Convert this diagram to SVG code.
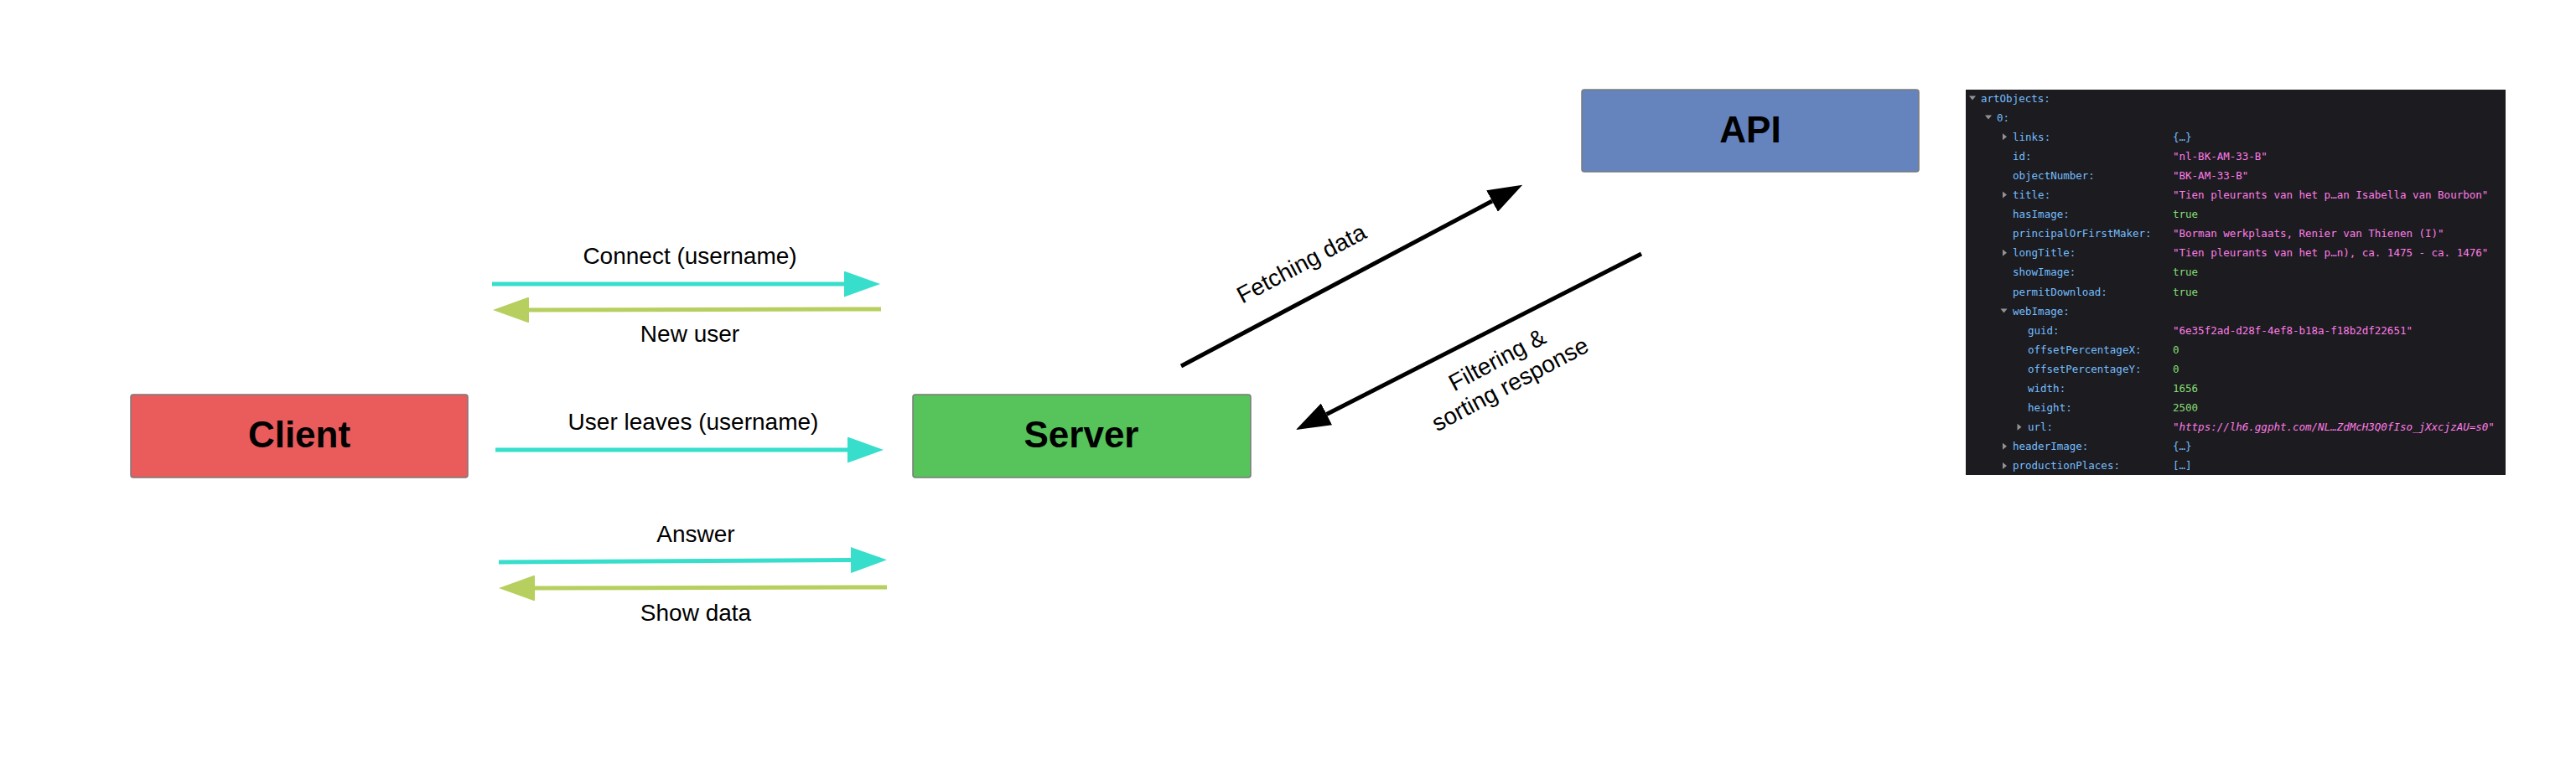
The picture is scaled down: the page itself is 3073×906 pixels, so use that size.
<svg xmlns="http://www.w3.org/2000/svg" width="3073" height="906" viewBox="0 0 3073 906">
<style>
.box{stroke:#7a7a7a;stroke-width:1.5}
.nt{font-family:"Liberation Sans",Arial,Helvetica,sans-serif;font-size:44px;font-weight:bold;fill:#000;text-anchor:middle}
.lbl{font-family:"Liberation Sans",Arial,Helvetica,sans-serif;font-size:28px;fill:#000;text-anchor:middle}
.cy{stroke:#36decb;stroke-width:5;fill:none}
.gr{stroke:#b6cf5e;stroke-width:5;fill:none}
.bk{stroke:#000;stroke-width:5;fill:none}
.js{font-family:"DejaVu Sans Mono","Liberation Mono",monospace;font-size:12.5px}
.k{fill:#75bfff}
.s{fill:#ff7de9}
.n{fill:#86de74}
.tri{fill:#939395}
</style>
<defs>
<marker id="hc" markerUnits="userSpaceOnUse" markerWidth="44" markerHeight="31" viewBox="0 0 44 31" refX="0" refY="15.5" orient="auto"><path d="M0,0 L43,15.5 L0,31 Z" fill="#36decb"/></marker>
<marker id="hg" markerUnits="userSpaceOnUse" markerWidth="44" markerHeight="31" viewBox="0 0 44 31" refX="0" refY="15.5" orient="auto"><path d="M0,0 L43,15.5 L0,31 Z" fill="#b6cf5e"/></marker>
<marker id="hb" markerUnits="userSpaceOnUse" markerWidth="42" markerHeight="29" viewBox="0 0 42 29" refX="0" refY="14.5" orient="auto"><path d="M0,0 L41,14.5 L0,29 Z" fill="#000"/></marker>
</defs>
<rect width="3073" height="906" fill="#fff"/>
<g id="client">
<rect class="box" x="156" y="471" width="402" height="99" rx="3" fill="#ea5b5b"/>
<text class="nt" x="357" y="534">Client</text>
</g>
<g id="server">
<rect class="box" x="1089" y="471" width="403" height="99" rx="3" fill="#56c45b"/>
<text class="nt" x="1290" y="534">Server</text>
</g>
<g id="api">
<rect class="box" x="1887" y="107" width="402" height="98" rx="3" fill="#6583bd"/>
<text class="nt" x="2088" y="170">API</text>
</g>
<g id="connectors">
<line class="cy" x1="587" y1="339" x2="1007" y2="339" marker-end="url(#hc)"/>
<text class="lbl" x="823" y="315">Connect (username)</text>
<line class="gr" x1="1051" y1="369" x2="631" y2="370" marker-end="url(#hg)"/>
<text class="lbl" x="823" y="408">New user</text>
<line class="cy" x1="591" y1="537" x2="1011" y2="537" marker-end="url(#hc)"/>
<text class="lbl" x="827" y="513">User leaves (username)</text>
<line class="cy" x1="595" y1="671" x2="1015" y2="668.5" marker-end="url(#hc)"/>
<text class="lbl" x="830" y="647">Answer</text>
<line class="gr" x1="1058" y1="701" x2="638" y2="702" marker-end="url(#hg)"/>
<text class="lbl" x="830" y="741">Show data</text>
<line class="bk" x1="1409" y1="437" x2="1780" y2="240" marker-end="url(#hb)"/>
<text class="lbl" transform="translate(1557,323) rotate(-28)" x="0" y="0">Fetching data</text>
<line class="bk" x1="1958" y1="303" x2="1582.5" y2="494.4" marker-end="url(#hb)"/>
<text class="lbl" transform="translate(1798,452) rotate(-28)"><tspan x="0" y="-16">Filtering &amp;</tspan><tspan x="0" y="17">sorting response</tspan></text>
</g>
<g id="json-panel">
<rect x="2345" y="107" width="644" height="460" fill="#1c1b1f"/>
<g class="tri">
<polygon points="2349,114.5 2357,114.5 2353,119.5"/>
<polygon points="2368,137.5 2376,137.5 2372,142.5"/>
<polygon points="2389,159.2 2394,163.2 2389,167.2"/>
<polygon points="2389,228.5 2394,232.5 2389,236.5"/>
<polygon points="2389,297.8 2394,301.8 2389,305.8"/>
<polygon points="2386.5,368.6 2394.5,368.6 2390.5,373.6"/>
<polygon points="2406.5,505.7 2411.5,509.7 2406.5,513.7"/>
<polygon points="2389,528.8 2394,532.8 2389,536.8"/>
<polygon points="2389,551.9 2394,555.9 2389,559.9"/>
</g>
<g class="js">
<text class="k" x="2363" y="121.5">artObjects:</text>
<text class="k" x="2382" y="144.6">0:</text>
<text class="k" x="2401" y="167.7">links:</text><text class="k" x="2592" y="167.7">{…}</text>
<text class="k" x="2401" y="190.8">id:</text><text class="s" x="2592" y="190.8">"nl-BK-AM-33-B"</text>
<text class="k" x="2401" y="213.9">objectNumber:</text><text class="s" x="2592" y="213.9">"BK-AM-33-B"</text>
<text class="k" x="2401" y="237">title:</text><text class="s" x="2592" y="237">"Tien pleurants van het p…an Isabella van Bourbon"</text>
<text class="k" x="2401" y="260.1">hasImage:</text><text class="n" x="2592" y="260.1">true</text>
<text class="k" x="2401" y="283.2">principalOrFirstMaker:</text><text class="s" x="2592" y="283.2">"Borman werkplaats, Renier van Thienen (I)"</text>
<text class="k" x="2401" y="306.3">longTitle:</text><text class="s" x="2592" y="306.3">"Tien pleurants van het p…n), ca. 1475 - ca. 1476"</text>
<text class="k" x="2401" y="329.4">showImage:</text><text class="n" x="2592" y="329.4">true</text>
<text class="k" x="2401" y="352.5">permitDownload:</text><text class="n" x="2592" y="352.5">true</text>
<text class="k" x="2401" y="375.6">webImage:</text>
<text class="k" x="2419" y="398.7">guid:</text><text class="s" x="2592" y="398.7">"6e35f2ad-d28f-4ef8-b18a-f18b2df22651"</text>
<text class="k" x="2419" y="421.8">offsetPercentageX:</text><text class="n" x="2592" y="421.8">0</text>
<text class="k" x="2419" y="444.9">offsetPercentageY:</text><text class="n" x="2592" y="444.9">0</text>
<text class="k" x="2419" y="468">width:</text><text class="n" x="2592" y="468">1656</text>
<text class="k" x="2419" y="491.1">height:</text><text class="n" x="2592" y="491.1">2500</text>
<text class="k" x="2419" y="514.2">url:</text><text class="s" x="2592" y="514.2" font-style="italic">"https://lh6.ggpht.com/NL…ZdMcH3Q0fIso_jXxcjzAU=s0"</text>
<text class="k" x="2401" y="537.3">headerImage:</text><text class="k" x="2592" y="537.3">{…}</text>
<text class="k" x="2401" y="560.4">productionPlaces:</text><text class="k" x="2592" y="560.4">[…]</text>
</g>
</g>
</svg>
